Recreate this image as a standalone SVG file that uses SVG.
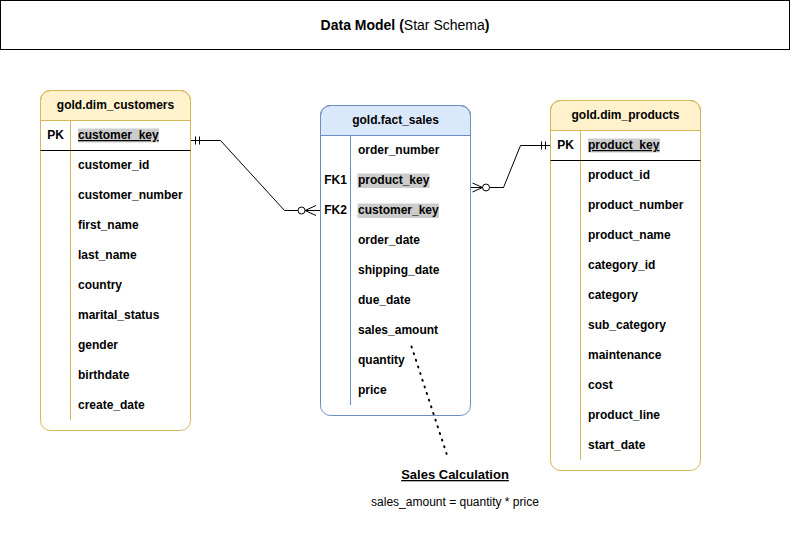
<svg xmlns="http://www.w3.org/2000/svg" width="791" height="534" viewBox="0 0 791 534">
<style>
text{font-family:"Liberation Sans",Arial,sans-serif;font-size:12px;fill:#000}
.b{font-weight:bold}
.hdrY{fill:#fff2cc;stroke:#d6b656}
.hdrB{fill:#dae8fc;stroke:#6c8ebf}
.boxY{fill:none;stroke:#d6b656}
.boxB{fill:none;stroke:#6c8ebf}
.divY{stroke:#d6b656}
.divB{stroke:#6c8ebf}
.hl{fill:#cccccc}
.ln{fill:none;stroke:#000;stroke-width:1}
.mid{text-anchor:middle}
</style>
<rect x="0" y="0" width="791" height="534" fill="#ffffff"/>
<g id="title">
<rect x="0.5" y="0.5" width="789" height="49" fill="#ffffff" stroke="#000"/>
<text x="405" y="30" class="mid" style="font-size:14px"><tspan class="b">Data Model (</tspan><tspan>Star Schema</tspan><tspan class="b">)</tspan></text>
</g>
<g id="connectors">
<path class="ln" d="M190.5 140.5 H220.5 L284.5 210.5 H320"/>
<path class="ln" d="M195.5 136.5 V144.5 M199.5 136.5 V144.5"/>
<circle cx="301.5" cy="210.5" r="3.5" fill="#fff" stroke="#000"/>
<path class="ln" d="M305 210.5 L316 205.5 M305 210.5 L316 215.5"/>
<path class="ln" d="M470 187.5 H503.5 L520.5 145.5 H550"/>
<path class="ln" d="M541.5 141.5 V149.5 M545.5 141.5 V149.5"/>
<circle cx="486" cy="187.5" r="3.5" fill="#fff" stroke="#000"/>
<path class="ln" d="M482.5 187.5 L472.5 183 M482.5 187.5 L472.5 192"/>
<path d="M411.5 346.5 L447 455" fill="none" stroke="#000" stroke-width="2" stroke-dasharray="1 6" stroke-linecap="round"/>
</g>
<g id="dim_customers">
<path class="hdrY" d="M40.5 120.5 V100.5 A10 10 0 0 1 50.5 90.5 H180.5 A10 10 0 0 1 190.5 100.5 V120.5 Z"/>
<rect class="boxY" x="40.5" y="90.5" width="150" height="340" rx="10"/>
<line class="divY" x1="70.5" y1="120.5" x2="70.5" y2="420"/>
<line stroke="#000" x1="40.5" y1="150.5" x2="190.5" y2="150.5"/>
<text class="b mid" x="115.5" y="109">gold.dim_customers</text>
<text class="b mid" x="55.5" y="139">PK</text>
<rect class="hl" x="78" y="128.5" width="81" height="14"/>
<text class="b" x="78" y="139" text-decoration="underline">customer_key</text>
<text class="b" x="78" y="169">customer_id</text>
<text class="b" x="78" y="199">customer_number</text>
<text class="b" x="78" y="229">first_name</text>
<text class="b" x="78" y="259">last_name</text>
<text class="b" x="78" y="289">country</text>
<text class="b" x="78" y="319">marital_status</text>
<text class="b" x="78" y="349">gender</text>
<text class="b" x="78" y="379">birthdate</text>
<text class="b" x="78" y="409">create_date</text>
</g>
<g id="fact_sales">
<path class="hdrB" d="M320.5 135.5 V115.5 A10 10 0 0 1 330.5 105.5 H460.5 A10 10 0 0 1 470.5 115.5 V135.5 Z"/>
<rect class="boxB" x="320.5" y="105.5" width="150" height="310" rx="10"/>
<line class="divB" x1="350.5" y1="135.5" x2="350.5" y2="405"/>
<text class="b mid" x="395.5" y="124">gold.fact_sales</text>
<text class="b" x="358" y="154">order_number</text>
<text class="b mid" x="335.5" y="184">FK1</text>
<rect class="hl" x="357.5" y="173.5" width="72" height="14.5"/>
<text class="b" x="358" y="184">product_key</text>
<text class="b mid" x="335.5" y="214">FK2</text>
<rect class="hl" x="357.5" y="203.5" width="81.5" height="14.5"/>
<text class="b" x="358" y="214">customer_key</text>
<text class="b" x="358" y="244">order_date</text>
<text class="b" x="358" y="274">shipping_date</text>
<text class="b" x="358" y="304">due_date</text>
<text class="b" x="358" y="334">sales_amount</text>
<text class="b" x="358" y="364">quantity</text>
<text class="b" x="358" y="394">price</text>
</g>
<g id="dim_products">
<path class="hdrY" d="M550.5 130.5 V110.5 A10 10 0 0 1 560.5 100.5 H690.5 A10 10 0 0 1 700.5 110.5 V130.5 Z"/>
<rect class="boxY" x="550.5" y="100.5" width="150" height="370" rx="10"/>
<line class="divY" x1="580.5" y1="130.5" x2="580.5" y2="460"/>
<line stroke="#000" x1="550.5" y1="160.5" x2="700.5" y2="160.5"/>
<text class="b mid" x="625.5" y="119">gold.dim_products</text>
<text class="b mid" x="565.5" y="149">PK</text>
<rect class="hl" x="588" y="138.5" width="72" height="14"/>
<text class="b" x="588" y="149" text-decoration="underline">product_key</text>
<text class="b" x="588" y="179">product_id</text>
<text class="b" x="588" y="209">product_number</text>
<text class="b" x="588" y="239">product_name</text>
<text class="b" x="588" y="269">category_id</text>
<text class="b" x="588" y="299">category</text>
<text class="b" x="588" y="329">sub_category</text>
<text class="b" x="588" y="359">maintenance</text>
<text class="b" x="588" y="389">cost</text>
<text class="b" x="588" y="419">product_line</text>
<text class="b" x="588" y="449">start_date</text>
</g>
<g id="sales_calc">
<text class="b mid" x="455" y="479" style="font-size:13px" text-decoration="underline">Sales Calculation</text>
<text class="mid" x="455" y="506">sales_amount = quantity * price</text>
</g>
</svg>
